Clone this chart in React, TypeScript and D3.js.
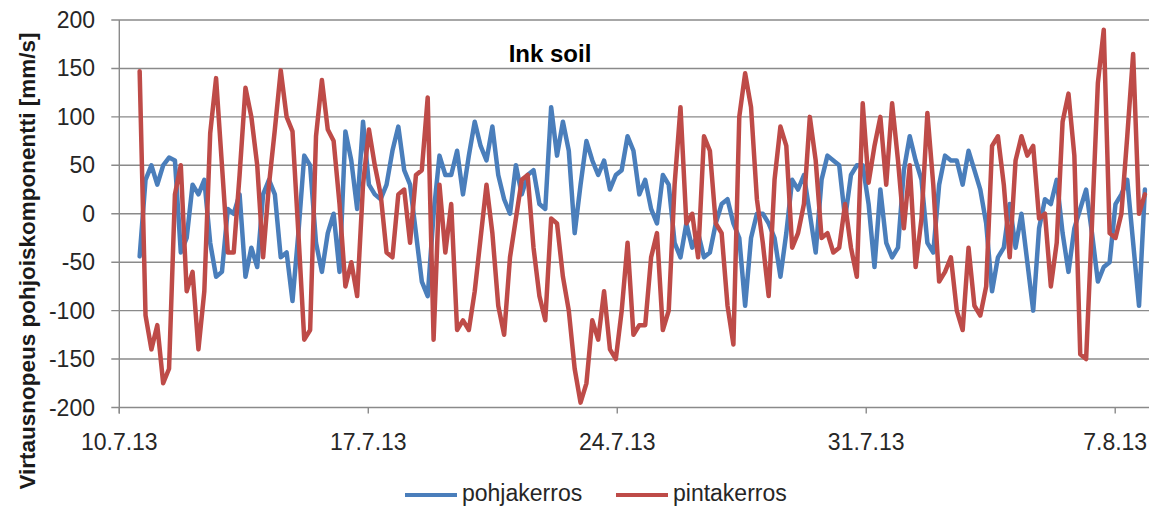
import React, { useEffect, useRef } from 'react';
import * as d3 from 'd3';

// samples every ~4 hours, starting 10.7.13 afternoon
const startTime = new Date(2013, 6, 10, 13, 44);
const stepMinutes = 238;

const pohjakerros = [
  -44, 35, 50, 30, 50, 58, 55, -40, -25, 30, 20, 35, -30, -65, -60, 5, 0, 20, -65, -35,
  -55, 20, 35, 20, -45, -40, -90, -20, 60, 50, -30, -60, -20, 0, -60, 85, 55, 5, 95, 30,
  20, 15, 30, 65, 90, 45, 30, -20, -70, -85, 0, 60, 40, 40, 65, 20, 60, 95, 70, 55,
  90, 40, 15, 0, 50, 20, 40, 45, 10, 5, 110, 60, 95, 65, -20, 30, 75, 55, 40, 55,
  25, 40, 45, 80, 65, 20, 35, 5, -10, 40, 30, -30, -45, -10, -35, -20, -45, -40, -10, 10,
  15, -10, -25, -95, -25, 0, 0, -10, -25, -65, -20, 35, 25, 40, 0, -40, 35, 60, 55, 50,
  -5, 40, 50, 50, 10, -55, 25, -30, -45, -35, 45, 80, 55, 35, -30, -40, 30, 60, 55, 55,
  30, 65, 45, 25, -10, -80, -45, -35, 10, -35, 0, -50, -100, -15, 15, 10, 35, -20, -60, -15,
  5, 25, -20, -70, -55, -50, 10, 20, 35, -30, -95, 25,
];

const pintakerros = [
  147, -105, -140, -115, -175, -160, 20, 50, -80, -60, -140, -80, 83, 140, 50, -40, -40, 40, 130, 100,
  50, -45, 30, 87, 148, 100, 85, -20, -130, -120, 80, 138, 87, 75, 10, -75, -50, -85, 30, 87,
  50, 20, -40, -45, 20, 25, -30, 40, 45, 120, -130, 30, -40, 10, -120, -110, -120, -80, -25, 30,
  -20, -95, -125, -45, -5, 35, 40, -35, -85, -110, -5, -10, -65, -100, -160, -195, -175, -110, -130, -80,
  -140, -150, -100, -30, -125, -115, -115, -45, -20, -120, -100, 30, 110, -10, 0, -45, 80, 65, -10, -20,
  -95, -135, 100, 145, 110, 15, -30, -85, 35, 90, 70, -35, -20, 10, 100, 55, -25, -20, -40, -35,
  10, -35, -65, 114, 32, 70, 100, 30, 114, 55, -15, 50, -55, -5, 104, 30, -70, -60, -45, -100,
  -120, -35, -95, -105, -75, 70, 80, 30, -45, 55, 80, 60, 70, -5, 0, -75, -30, 95, 124, 60,
  -145, -150, -10, 135, 190, -20, -25, 0, 80, 165, 0, 20,
];

const seriesNames = ['pohjakerros', 'pintakerros'];
const seriesColors = ['#4a7ebb', '#be4b48'];

const yTicks = [-200, -150, -100, -50, 0, 50, 100, 150, 200];
const xTickLabels = ['10.7.13', '17.7.13', '24.7.13', '31.7.13', '7.8.13'];

const title = 'Ink soil';
const yTitle = 'Virtausnopeus pohjoiskomponentti [mm/s]';

function App() {
  const ref = useRef<HTMLDivElement>(null);

  const width = 1149;
  const height = 509;
  const plot = { left: 119.3, right: 1149, top: 20, bottom: 407.5 };
  const font = '"Liberation Sans", Arial, sans-serif';

  useEffect(() => {
    drawChart();
  }, []);

  function drawChart() {
    d3.select(ref.current).select('svg').remove();

    const svg = d3
      .select(ref.current)
      .append('svg')
      .attr('width', width)
      .attr('height', height)
      .style('position', 'absolute')
      .style('left', 0)
      .style('top', 0)
      .style('background', '#fff');

    const parseDate = d3.timeParse('%d.%m.%y');
    const x = d3
      .scaleTime()
      .domain([new Date(2013, 6, 10), new Date(2013, 7, 7, 22, 48)])
      .range([plot.left, plot.right]);
    const y = d3.scaleLinear().domain([-200, 200]).range([plot.bottom, plot.top]);

    const times = pohjakerros.map((_, i) => new Date(startTime.getTime() + i * stepMinutes * 60000));

    // horizontal gridlines + tick stubs
    svg
      .append('g')
      .selectAll('line')
      .data(yTicks)
      .join('line')
      .attr('x1', plot.left - 8)
      .attr('x2', plot.right)
      .attr('y1', (d) => y(d))
      .attr('y2', (d) => y(d))
      .attr('stroke', '#8a8a8a')
      .attr('stroke-width', 1.4);

    // y axis line
    svg
      .append('line')
      .attr('x1', plot.left)
      .attr('x2', plot.left)
      .attr('y1', plot.top)
      .attr('y2', plot.bottom + 6)
      .attr('stroke', '#8a8a8a')
      .attr('stroke-width', 1.4);

    svg
      .append('g')
      .selectAll('text')
      .data(yTicks)
      .join('text')
      .attr('x', 95)
      .attr('y', (d) => y(d) + 8)
      .attr('text-anchor', 'end')
      .style('font-family', font)
      .style('font-size', '23px')
      .style('fill', '#262626')
      .text((d) => d);

    // x ticks
    const xTickDates = xTickLabels.map((s) => parseDate(s) as Date);
    svg
      .append('g')
      .selectAll('line')
      .data(xTickDates)
      .join('line')
      .attr('x1', (d) => x(d))
      .attr('x2', (d) => x(d))
      .attr('y1', plot.bottom)
      .attr('y2', plot.bottom + 6)
      .attr('stroke', '#8a8a8a')
      .attr('stroke-width', 1.4);

    svg
      .append('g')
      .selectAll('text')
      .data(xTickDates)
      .join('text')
      .attr('x', (d) => x(d))
      .attr('y', 450)
      .attr('text-anchor', 'middle')
      .style('font-family', font)
      .style('font-size', '23px')
      .style('fill', '#262626')
      .text((_, i) => xTickLabels[i]);

    // series
    const line = d3
      .line<number>()
      .x((_, i) => x(times[i]))
      .y((d) => y(d));

    [pohjakerros, pintakerros].forEach((values, s) => {
      svg
        .append('path')
        .datum(values)
        .attr('d', line)
        .attr('fill', 'none')
        .attr('stroke', seriesColors[s])
        .attr('stroke-width', 4.5)
        .attr('stroke-linejoin', 'round')
        .attr('stroke-linecap', 'round');
    });

    // title
    svg
      .append('text')
      .attr('x', 550)
      .attr('y', 62)
      .attr('text-anchor', 'middle')
      .style('font-family', font)
      .style('font-size', '24px')
      .style('font-weight', 'bold')
      .style('fill', '#000')
      .text(title);

    // y title
    svg
      .append('text')
      .attr('transform', 'translate(35,261) rotate(-90)')
      .attr('text-anchor', 'middle')
      .style('font-family', font)
      .style('font-size', '22.5px')
      .style('font-weight', 'bold')
      .style('fill', '#1a1a1a')
      .text(yTitle);

    // legend
    const legendX = [405, 616];
    const legend = svg
      .append('g')
      .selectAll('g')
      .data(seriesNames)
      .join('g')
      .attr('transform', (_, i) => `translate(${legendX[i]},495)`);
    legend
      .append('line')
      .attr('x1', 0)
      .attr('x2', 52)
      .attr('stroke', (_, i) => seriesColors[i])
      .attr('stroke-width', 4);
    legend
      .append('text')
      .attr('x', 57)
      .attr('y', 6)
      .style('font-family', font)
      .style('font-size', '23px')
      .style('fill', '#262626')
      .text((d) => d);
  }

  return <div ref={ref} />;
}

export default App;
